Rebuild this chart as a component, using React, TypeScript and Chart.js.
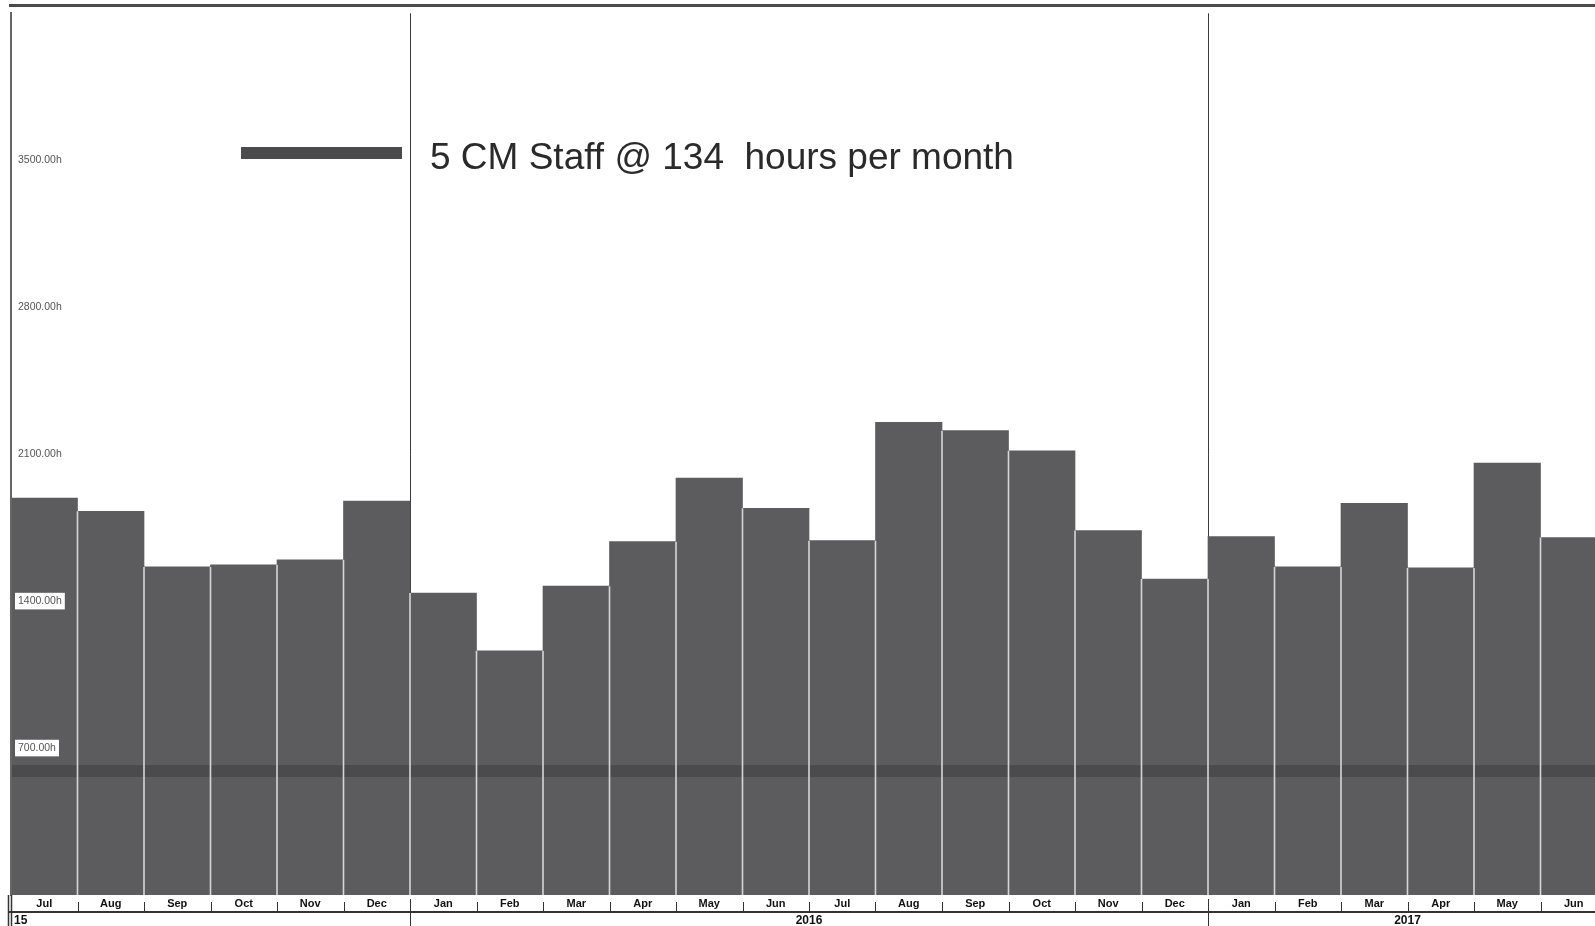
import React, { useEffect, useRef } from 'react';
import { Chart, registerables } from 'chart.js';
Chart.register(...registerables);

const months = ['Jul','Aug','Sep','Oct','Nov','Dec','Jan','Feb','Mar','Apr','May','Jun','Jul','Aug','Sep','Oct','Nov','Dec','Jan','Feb','Mar','Apr','May','Jun'];
const workHours = [1891,1828,1563,1573,1597,1876,1438,1163,1471,1683,1986,1842,1688,2251,2212,2116,1736,1505,1707,1563,1866,1558,2058,1703];
const staffHours = 591;
const staffLabel = '5 CM Staff @ 134  hours per month';
const yTicks = [700, 1400, 2100, 2800, 3500];
const yMax = 4200;
const yearLabels = ['15', '2016', '2017'];
const yearStarts = [0, 6, 18];
const yearEnds = [6, 18, 24];

const BAR = '#5c5c5e';
const LINE = '#4b4b4d';

const decor = {
  id: 'decor',
  beforeDatasetsDraw(chart: any) {
    const { ctx, chartArea } = chart;
    const xs = chart.scales.x;
    ctx.save();
    ctx.strokeStyle = '#3a3a3a';
    ctx.lineWidth = 1;
    yearStarts.forEach((s) => {
      if (s === 0) return;
      const x = Math.round(xs.getPixelForValue(s - 0.5)) + 0.5;
      ctx.beginPath();
      ctx.moveTo(x, chartArea.top);
      ctx.lineTo(x, chartArea.bottom);
      ctx.stroke();
    });
    ctx.restore();
  },
  afterDatasetsDraw(chart: any) {
    const { ctx, chartArea } = chart;
    const xs = chart.scales.x;
    const ys = chart.scales.y;
    ctx.save();
    ctx.strokeStyle = '#d6d6d6';
    ctx.lineWidth = 1.6;
    for (let k = 1; k < workHours.length; k++) {
      const x = xs.getPixelForValue(k - 0.5);
      const top = ys.getPixelForValue(Math.min(workHours[k - 1], workHours[k]));
      ctx.beginPath();
      ctx.moveTo(x, top);
      ctx.lineTo(x, chartArea.bottom);
      ctx.stroke();
    }
    ctx.restore();
  },
  afterDraw(chart: any) {
    const { ctx, chartArea, width } = chart;
    const xs = chart.scales.x;
    ctx.save();
    // top border
    ctx.fillStyle = '#4a4a4a';
    ctx.fillRect(9, 4, width, 3);
    // legend
    ctx.fillStyle = LINE;
    ctx.fillRect(241, 147, 161, 12);
    ctx.fillStyle = '#2a2a2a';
    ctx.font = '37px "Liberation Sans", Arial, sans-serif';
    ctx.textBaseline = 'middle';
    ctx.textAlign = 'left';
    ctx.fillText(chart.data.datasets[1].label, 430, 159);
    // bottom rows
    const b = chartArea.bottom;
    ctx.fillStyle = '#333';
    ctx.fillRect(8, b + 16, width, 2);
    ctx.strokeStyle = '#333';
    ctx.lineWidth = 1;
    for (let k = 1; k < months.length; k++) {
      const x = Math.round(xs.getPixelForValue(k - 0.5)) + 0.5;
      const isYear = yearStarts.indexOf(k) >= 0;
      ctx.beginPath();
      ctx.moveTo(x, isYear ? b + 4 : b + 7);
      ctx.lineTo(x, isYear ? 926 : b + 16);
      ctx.stroke();
    }
    ctx.lineWidth = 1.5;
    [8.5, 11.5].forEach((x) => {
      ctx.beginPath();
      ctx.moveTo(x, b);
      ctx.lineTo(x, 926);
      ctx.stroke();
    });
    ctx.fillStyle = '#111';
    ctx.font = 'bold 12px "Liberation Sans", Arial, sans-serif';
    ctx.textBaseline = 'middle';
    yearLabels.forEach((lab, i) => {
      const x0 = xs.getPixelForValue(yearStarts[i] - 0.5);
      const x1 = xs.getPixelForValue(yearEnds[i] - 0.5);
      if (i === 0) {
        ctx.textAlign = 'left';
        ctx.fillText(lab, x0 + 3, b + 26);
      } else {
        ctx.textAlign = 'center';
        ctx.fillText(lab, (x0 + x1) / 2, b + 26);
      }
    });
    ctx.restore();
  },
};

export default function App() {
  const ref = useRef<HTMLCanvasElement | null>(null);
  useEffect(() => {
    if (!ref.current) return;
    const chart = new Chart(ref.current, {
      type: 'bar',
      data: {
        labels: months,
        datasets: [
          {
            type: 'bar',
            label: 'Hours',
            data: workHours,
            backgroundColor: BAR,
            borderWidth: 0,
            categoryPercentage: 1,
            barPercentage: 1,
            grouped: false,
            order: 1,
          } as any,
          {
            type: 'line',
            label: staffLabel,
            xAxisID: 'xl',
            data: [
              { x: 0, y: staffHours },
              { x: months.length, y: staffHours },
            ],
            borderColor: LINE,
            borderWidth: 12,
            pointRadius: 0,
            order: 0,
          } as any,
        ],
      },
      options: {
        responsive: false,
        animation: false,
        devicePixelRatio: 1,
        layout: { padding: { left: 11, top: 7, right: 0, bottom: 0 } },
        plugins: { legend: { display: false }, tooltip: { enabled: false } },
        scales: {
          x: {
            type: 'category',
            offset: true,
            grid: { display: false, drawTicks: false },
            border: { display: false },
            ticks: {
              autoSkip: false,
              maxRotation: 0,
              padding: 2,
              color: '#111',
              font: { family: '"Liberation Sans", Arial, sans-serif', size: 11, weight: 'bold' },
            },
            afterFit: (s: any) => {
              s.height = 31;
            },
          },
          xl: {
            type: 'linear',
            display: false,
            offset: false,
            grace: 0,
            min: 0,
            max: months.length,
          },
          y: {
            min: 0,
            max: yMax,
            grid: { display: false, drawTicks: false },
            border: { display: true, color: '#666', width: 2, z: 2 },
            afterBuildTicks: (s: any) => {
              s.ticks = yTicks.map((v) => ({ value: v }));
            },
            afterFit: (s: any) => {
              s.width = 0;
            },
            ticks: {
              z: 2,
              mirror: true,
              padding: 7,
              color: '#555',
              font: { family: '"Liberation Sans", Arial, sans-serif', size: 10.5 },
              showLabelBackdrop: true,
              backdropColor: '#ffffff',
              backdropPadding: { x: 3, y: 2 },
              callback: (v: any) => Number(v).toFixed(2) + 'h',
            },
          },
        },
      } as any,
      plugins: [decor],
    });
    return () => chart.destroy();
  }, []);
  return (
    <div style={{ position: 'fixed', left: 0, top: 0, width: '100vw', height: '100vh', overflow: 'hidden', background: '#fff' }}>
      <canvas ref={ref} width={1607} height={926} style={{ display: 'block' }} />
    </div>
  );
}
